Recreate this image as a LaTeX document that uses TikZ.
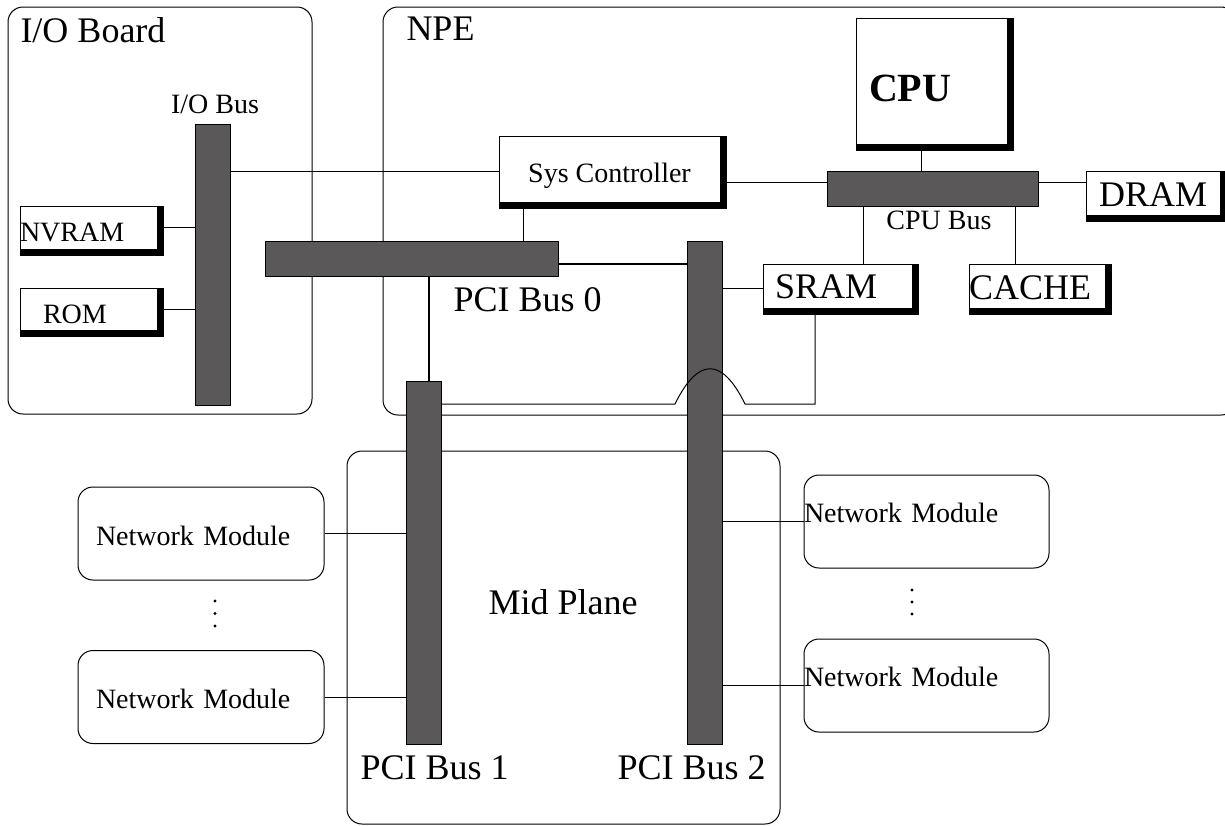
\documentclass[tikz,border=0pt]{standalone}
\usepackage{fontspec}
\setmainfont{Liberation Serif}
\usetikzlibrary{backgrounds}
\definecolor{busgray}{RGB}{90,88,89}
\newcommand\fbig{\fontsize{36}{40}\selectfont}
\newcommand\fsm{\fontsize{28}{32}\selectfont}
\newcommand\fcpu{\fontsize{40}{44}\selectfont\bfseries}
\begin{document}
\begin{tikzpicture}[x=1pt,y=-1pt,line width=1pt,
  frame/.style={draw,rounded corners=15pt,inner sep=0pt},
  bus/.style={draw,fill=busgray,inner sep=0pt},
  shbox/.style={draw,fill=white,inner sep=0pt,text depth=0pt},
  lbl/.style={inner sep=0pt},
  nm/.style={draw,fill=white,rounded corners=15pt,inner sep=0pt,minimum width=246,minimum height=93,font=\fsm},
  thickline/.style={line width=2pt}]
\useasboundingbox (0,0) rectangle (1225,825);

% containers
\node[frame,minimum width=304,minimum height=407] (ioboard) at (160,210.5) {};
\node[frame,minimum width=853,minimum height=408] (npe) at (809.5,211) {};
\node[frame,minimum width=433,minimum height=373] (midplane) at (563.5,637.5) {};

% container labels
\node[lbl,font=\fbig,anchor=base west] (ioboardlbl) at (20,42) {I/O Board};
\node[lbl,font=\fbig,anchor=base west] (npelbl) at (406,40) {NPE};
\node[lbl,font=\fbig,anchor=base west] (midlbl) at (488,614) {Mid Plane};

% buses
\node[bus,minimum width=35,minimum height=281] (iobus) at (212.5,264.5) {};
\node[bus,minimum width=293,minimum height=35] (pci0) at (411.5,258.5) {};
\node[bus,minimum width=35,minimum height=363] (pci1) at (423.5,562.5) {};
\node[bus,minimum width=35,minimum height=503] (pci2) at (704.5,492.5) {};
\node[bus,minimum width=211,minimum height=35] (cpubus) at (932.5,188.5) {};

% bus labels
\node[lbl,font=\fsm,anchor=base] (iobuslbl) at (215,113) {I/O Bus};
\node[lbl,font=\fsm,anchor=base] (cpubuslbl) at (939,229) {CPU Bus};
\node[lbl,font=\fbig,anchor=base west] (pci0lbl) at (453,311) {PCI Bus 0};
\node[lbl,font=\fbig,anchor=base west] (pci1lbl) at (360,779) {PCI Bus 1};
\node[lbl,font=\fbig,anchor=base west] (pci2lbl) at (617,779) {PCI Bus 2};

% shadowed boxes
\node[shbox,minimum width=137,minimum height=43,text width=137,inner xsep=0pt,align=left,text height=27pt,font=\fsm] (nvram) at (88.5,227.5) {NVRAM};
\node[shbox,minimum width=137,minimum height=42,text width=91,inner xsep=23pt,align=left,text height=28pt,font=\fsm] (rom) at (88.5,309) {ROM};
\node[shbox,minimum width=221,minimum height=66,text height=26pt,font=\fsm] (sys) at (609.5,169) {Sys Controller};
\node[shbox,minimum width=138,minimum height=126,text width=125,inner xsep=13pt,align=left,text height=40pt,font=\fcpu] (cpu) at (931.5,81) {CPU};
\node[shbox,minimum width=134,minimum height=44,text height=26pt,font=\fbig] (dram) at (1153,193) {DRAM};
\node[shbox,minimum width=137,minimum height=44,text width=125,inner xsep=12pt,align=left,text height=24pt,font=\fbig] (sram) at (837.5,286) {SRAM};
\node[shbox,minimum width=136,minimum height=44,text width=136,inner xsep=0pt,align=left,text height=26pt,font=\fbig] (cache) at (1037,286) {CACHE};

% network modules
\node[nm,text width=210,inner xsep=18pt,align=left,text height=23pt,text depth=0pt] (nmL1) at (201,533.5) {Network Module};
\node[nm,text width=210,inner xsep=18pt,align=left,text height=23pt,text depth=0pt] (nmL2) at (201,697) {Network Module};
\node[nm,minimum width=245,text width=245,inner xsep=0pt,align=left,text height=10pt,text depth=9pt] (nmR1) at (926.5,521.5) {Network Module};
\node[nm,minimum width=245,text width=245,inner xsep=0pt,align=left,text height=10pt,text depth=9pt] (nmR2) at (926.5,685.5) {Network Module};

% shadows
\begin{scope}[on background layer]
  \foreach \n in {nvram,rom,sys,cpu,dram,sram,cache}
    \fill[black] (\n.north west) rectangle ([shift={(6pt,-6pt)}]\n.south east);
\end{scope}

% connectors
\draw (nvram.east) -- (nvram.east -| iobus.west);
\draw (rom.east) -- (rom.east -| iobus.west);
\coordinate (sysin) at ([yshift=-2pt]sys.west);
\draw (sysin -| iobus.east) -- (sysin);
\coordinate (sysout) at ([yshift=-13pt]sys.east);
\draw (sysout) -- (sysout -| cpubus.west);
\coordinate (cpuout) at ([xshift=-10.5pt]cpu.south);
\draw (cpuout) -- (cpuout |- cpubus.north);
\coordinate (dramin) at ([yshift=11pt]dram.west);
\draw (dramin -| cpubus.east) -- (dramin);
\coordinate (sramtop) at ([xshift=25.5pt]sram.north);
\draw (sramtop |- cpubus.south) -- (sramtop);
\coordinate (cachetop) at ([xshift=-22pt]cache.north);
\draw (cachetop |- cpubus.south) -- (cachetop);
\coordinate (sysdown) at ([xshift=-86.5pt]sys.south);
\draw (sysdown) -- (sysdown |- pci0.north);
\coordinate (pci0r) at ([yshift=-5.5pt]pci0.east);
\draw[thickline] (pci0r) -- (pci0r -| pci2.west);
\coordinate (sramin) at ([yshift=-2pt]sram.west);
\draw (sramin -| pci2.east) -- (sramin);
\coordinate (pci1top) at ([xshift=5.5pt]pci1.north);
\draw[thickline] (pci0.south -| pci1top) -- (pci1top);
\draw (nmL1.east) -- (nmL1.east -| pci1.west);
\draw (nmL2.east) -- (nmL2.east -| pci1.west);
\draw (nmR1.west -| pci2.east) -- (nmR1.west);
\draw (nmR2.west -| pci2.east) -- (nmR2.west);

% SRAM to PCI Bus 1 with hop over PCI Bus 2
\coordinate (sramdown) at ([xshift=-22.5pt]sram.south);
\coordinate (hopy) at (0,404);
\draw (sramdown) -- (sramdown |- hopy) -- (745,404)
  .. controls (722,357) and (698,357) .. (675,404) -- (pci1.east |- hopy);

% ellipses
\foreach \y in {601,613.5,626} \fill (215,\y) circle (1.6pt);
\foreach \y in {590,602,614} \fill (912,\y) circle (1.6pt);
\end{tikzpicture}
\end{document}
